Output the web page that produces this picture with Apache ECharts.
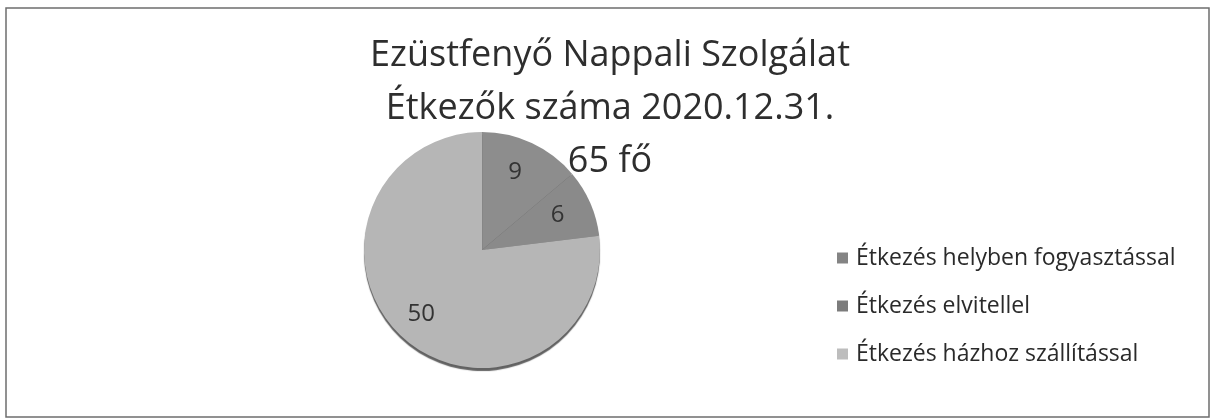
<!DOCTYPE html>
<html>
<head>
<meta charset="utf-8">
<script src="https://cdn.jsdelivr.net/npm/echarts@6/dist/echarts.min.js"></script>
<style>
  html, body { margin: 0; padding: 0; background: #fff; }
  #chart { width: 1211px; height: 419px; }
</style>
</head>
<body>
<div id="chart"></div>
<script>
  // adatok
  const categories = ['Étkezés helyben fogyasztással', 'Étkezés elvitellel', 'Étkezés házhoz szállítással']
  const values = [9, 6, 50]
  const sliceColors = ['#8d8d8d', '#8a8a8a', '#b6b6b6']
  const legendColors = ['#848484', '#7c7c7c', '#bdbdbd']
  const titleLines = ['Ezüstfenyő Nappali Szolgálat', 'Étkezők száma 2020.12.31.', '65 fő']

  const chart = echarts.init(document.getElementById('chart'))

  chart.setOption({
    backgroundColor: '#fff',
    animation: false,
    title: {
      text: titleLines.join('\n'),
      left: 605,
      top: 24,
      textAlign: 'center',
      textStyle: {
        fontFamily: 'Open Sans',
        fontSize: 36,
        fontWeight: 'normal',
        color: '#2e2e2e',
        lineHeight: 53,
      },
    },
    legend: {
      orient: 'vertical',
      left: 832,
      top: 241,
      itemWidth: 11,
      itemHeight: 11,
      itemGap: 24,
      icon: 'rect',
      data: categories.map((name, i) => ({
        name,
        itemStyle: { color: legendColors[i] },
      })),
      textStyle: {
        fontFamily: 'Open Sans',
        fontSize: 23,
        color: '#2a2a2a',
        lineHeight: 24,
        padding: [0, 0, 0, 3],
      },
    },
    graphic: [
      {
        type: 'rect',
        shape: { x: 6, y: 8, width: 1203, height: 409 },
        style: { fill: 'none', stroke: '#6e6e6e', lineWidth: 1.5 },
        silent: true,
      },
    ],
    series: [
      {
        type: 'pie',
        center: [482, 250],
        radius: 118,
        startAngle: 90,
        clockwise: true,
        avoidLabelOverlap: false,
        label: {
          show: true,
          position: 'outside',
          formatter: '{c}',
          distanceToLabelLine: -10,
          fontFamily: 'Open Sans',
          fontSize: 24,
          color: '#333',
        },
        labelLine: { show: false, length: -32, length2: 0 },
        itemStyle: {
          borderWidth: 0,
          shadowColor: 'rgba(70,70,70,0.85)',
          shadowOffsetY: 3,
          shadowBlur: 1,
        },
        emphasis: { disabled: true },
        data: categories.map((name, i) => ({
          name,
          value: values[i],
          itemStyle: { color: sliceColors[i] },
        })),
      },
    ],
  })
</script>
</body>
</html>
